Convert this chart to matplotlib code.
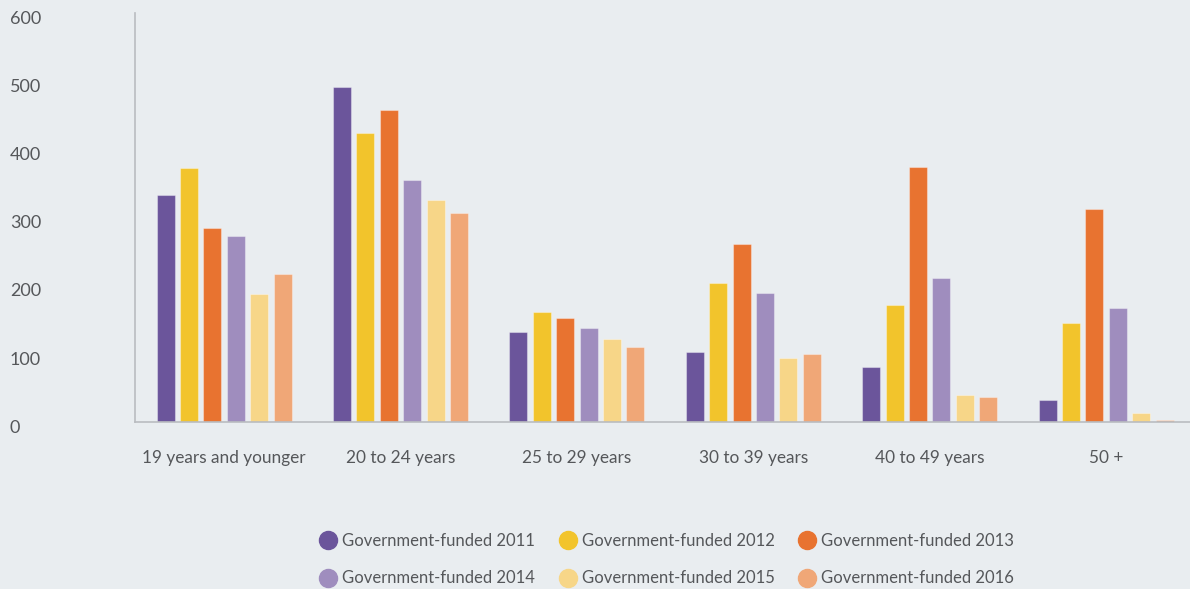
import matplotlib
matplotlib.use("Agg")
import matplotlib.pyplot as plt
from matplotlib.lines import Line2D
from matplotlib.transforms import ScaledTranslation
import numpy as np

categories = ["19 years and younger", "20 to 24 years", "25 to 29 years",
              "30 to 39 years", "40 to 49 years", "50 +"]
series_names = ["Government-funded 2011", "Government-funded 2012", "Government-funded 2013",
                "Government-funded 2014", "Government-funded 2015", "Government-funded 2016"]
funded_2011 = [334, 492, 133, 103, 81, 32]
funded_2012 = [373, 425, 162, 204, 172, 146]
funded_2013 = [285, 458, 153, 262, 374, 313]
funded_2014 = [273, 355, 138, 189, 212, 168]
funded_2015 = [188, 326, 122, 94, 40, 13]
funded_2016 = [218, 307, 110, 100, 37, 4]
y_ticks = [0, 100, 200, 300, 400, 500, 600]

series = [funded_2011, funded_2012, funded_2013, funded_2014, funded_2015, funded_2016]
colors = ["#6B559B", "#F2C42C", "#E87330", "#9F8DBE", "#F7D688", "#F0A777"]

bg = "#E9EDF0"
text_color = "#55575A"
font = "Lato"

fig = plt.figure(figsize=(11.9, 5.89), dpi=100, facecolor=bg)
ax = fig.add_axes([135 / 1190, 1 - 422.3 / 589, 1 - 135 / 1190, (422.3 - 13.3) / 589])
ax.set_facecolor(bg)

x = np.arange(len(categories))
step = 0.1327
width = 0.102
for i, (vals, col) in enumerate(zip(series, colors)):
    ax.bar(x + (i - 2.5) * step, vals, width=width, color=col,
           edgecolor=(1, 1, 1, 0.35), linewidth=0.8, zorder=2)

ax.set_xlim(-0.505, 5.476)
ax.set_ylim(0, 600)

for side in ["top", "right"]:
    ax.spines[side].set_visible(False)
for side in ["left", "bottom"]:
    ax.spines[side].set_color("#B9BCC0")
    ax.spines[side].set_linewidth(1.2)

ax.set_xticks(x)
ax.set_xticklabels(categories, fontsize=12.4, color=text_color, family=font)
ax.tick_params(axis="x", length=0, pad=20)

ax.set_yticks(y_ticks)
ax.set_yticklabels([str(v) for v in y_ticks], fontsize=13, color=text_color,
                   family=font, ha="left")
ax.tick_params(axis="y", length=0, pad=90)
for lab in ax.get_yticklabels():
    lab.set_transform(lab.get_transform() + ScaledTranslation(0, -4 / 100, fig.dpi_scale_trans))

handles = [Line2D([], [], marker="o", linestyle="none", markersize=13,
                  markerfacecolor=c, markeredgecolor=c) for c in colors]
order = [0, 3, 1, 4, 2, 5]
leg = fig.legend([handles[k] for k in order], [series_names[k] for k in order],
                 ncol=3, loc="center", bbox_to_anchor=(667 / 1190, 1 - 559.5 / 589),
                 frameon=False, handletextpad=0.35, columnspacing=1.45,
                 labelspacing=1.3, handlelength=1.0,
                 prop={"family": font, "size": 12})
for t in leg.get_texts():
    t.set_color(text_color)

fig.savefig("out.png", dpi=100, facecolor=bg)
